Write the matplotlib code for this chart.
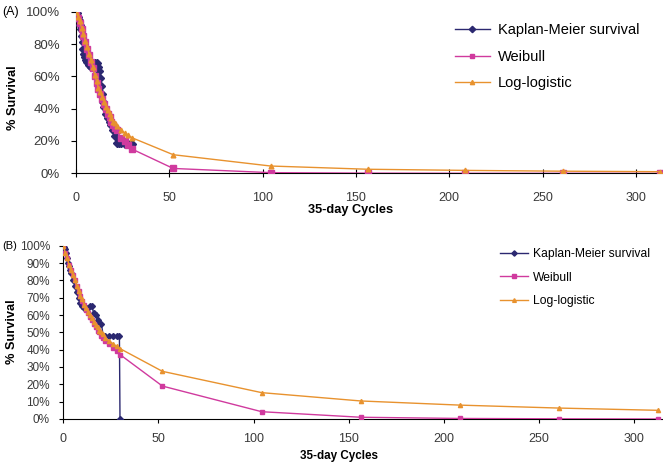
import matplotlib
matplotlib.use("Agg")
import matplotlib.pyplot as plt
from matplotlib.ticker import FuncFormatter, MultipleLocator

plt.rcParams['font.family'] = ['Liberation Sans', 'DejaVu Sans']

# ---------------- Data ----------------
# Panel A
km_a_t = [0, 0.5, 1, 1.5, 2, 2.5, 3, 3.5, 4, 4.5, 5, 5.5, 6, 7, 8, 9, 10, 11, 12,
          12.5, 13, 13.5, 14, 14.5, 15, 16, 17, 18, 19, 20, 21, 22, 23, 24, 26, 28, 30]
km_a_s = [100, 99, 97, 95, 92, 89, 85, 81, 77, 74, 72, 70, 69, 67, 66, 66, 68, 68, 66,
          63, 59, 54, 49, 44, 41, 37, 34, 32, 30, 27, 23, 19, 18.5, 18.5, 18, 18, 18]

model_t = [0, 1, 2, 3, 4, 5, 6, 7, 8, 9, 10, 11, 12, 13, 14, 15, 16, 17, 18, 19, 20,
           21, 22, 24, 26, 28, 30, 52.1, 104.3, 156.4, 208.6, 260.7, 312.9]

weib_a_s = [100, 96, 93, 89, 85, 81, 77, 73, 69, 65, 60, 56, 52, 49, 46, 43, 40, 37, 35, 32, 30,
            28, 26.5, 22, 20, 17.5, 15, 3, 0.4, 0.1, 0, 0, 0]
logl_a_s = [100, 97, 94, 90, 86, 82, 78, 74, 70, 66, 61, 57, 53, 50, 47, 44, 41, 39, 37, 34, 32,
            31, 29, 27, 25, 23.5, 22, 11.5, 4.5, 2.5, 1.8, 1.3, 1.0]

# Panel B
km_b_t = [0, 0.5, 1, 1.5, 2, 2.5, 3, 3.5, 4, 5, 6, 7, 8, 9, 10, 11, 12, 13, 14, 15,
          16, 17, 18, 19, 20, 21, 22, 24, 26, 28, 29.5, 29.8]
km_b_s = [100, 99, 98, 96, 93, 90, 88, 86, 84, 80, 77, 73, 70, 67, 65, 64, 64, 64, 65, 65,
          61, 60, 57, 55, 55, 48, 48, 48, 48, 48, 48, 0]

weib_b_s = [100, 96, 93, 89, 86, 83, 80, 77, 74, 71, 68, 66, 63, 61, 59, 57, 55, 53, 51, 50, 48,
            47, 45, 43, 41, 39, 37, 19, 4.2, 1.0, 0.3, 0.1, 0]
logl_b_s = [100, 96, 93, 89, 86, 83, 80, 77, 74, 71, 69, 66, 64, 62, 60, 58, 56, 54, 53, 51, 50,
            49, 47, 45, 43.5, 42, 40.5, 27.5, 15.2, 10.4, 8.0, 6.3, 5.0]

labels = ["Kaplan-Meier survival", "Weibull", "Log-logistic"]
x_ticks = [0, 50, 100, 150, 200, 250, 300]

# ---------------- Styling ----------------
C_KM = "#2B2870"
C_WB = "#D03A9E"
C_LL = "#E8922E"
TICK_COLOR = "#3a3a3a"

pct = FuncFormatter(lambda v, p: f"{int(round(v))}%")

fig = plt.figure(figsize=(6.63, 4.62), dpi=100)

# ---- Panel A ----
axA = fig.add_axes([0.1146, 0.6249, 0.884, 0.3498])
axA.plot(km_a_t, km_a_s, color=C_KM, lw=1.0, marker='D', ms=3.6, label=labels[0], zorder=3)
axA.plot(model_t, weib_a_s, color=C_WB, lw=1.0, marker='s', ms=3.8, label=labels[1], zorder=4)
axA.plot(model_t, logl_a_s, color=C_LL, lw=1.0, marker='^', ms=3.4, label=labels[2], zorder=5)
axA.set_xlim(0, 314)
axA.set_ylim(0, 100)
axA.set_xticks(x_ticks)
axA.yaxis.set_major_locator(MultipleLocator(20))
axA.yaxis.set_major_formatter(pct)
axA.tick_params(axis='x', direction='inout', length=6, pad=10.5, labelsize=9, labelcolor=TICK_COLOR)
axA.tick_params(axis='y', direction='out', length=3.6, pad=8, labelsize=9.5, labelcolor=TICK_COLOR)
for s in ['top', 'right']:
    axA.spines[s].set_visible(False)
axA.set_xlabel("35-day Cycles", fontweight='bold', fontsize=9.2)
axA.xaxis.set_label_coords(0.468, -0.19)
axA.set_ylabel("% Survival", fontweight='bold', fontsize=9.2)
axA.yaxis.set_label_coords(-0.097, 0.466)
axA.legend(loc='upper left', bbox_to_anchor=(0.686, 0.950), bbox_transform=fig.transFigure,
           frameon=False, fontsize=10.5, numpoints=1, handlelength=2.4, handletextpad=0.55,
           labelspacing=0.865, borderpad=0, borderaxespad=0, markerscale=0.9)
fig.text(0.003, 0.975, "(A)", fontsize=9, va='center', ha='left')

# ---- Panel B ----
axB = fig.add_axes([0.0955, 0.0931, 0.9036, 0.3751])
axB.plot(km_b_t, km_b_s, color=C_KM, lw=1.0, marker='D', ms=3.0, label=labels[0], zorder=3)
axB.plot(model_t, weib_b_s, color=C_WB, lw=1.0, marker='s', ms=3.0, label=labels[1], zorder=4)
axB.plot(model_t, logl_b_s, color=C_LL, lw=1.0, marker='^', ms=3.0, label=labels[2], zorder=5)
axB.set_xlim(0, 315)
axB.set_ylim(0, 100)
axB.set_xticks(x_ticks)
axB.yaxis.set_major_locator(MultipleLocator(10))
axB.yaxis.set_major_formatter(pct)
axB.tick_params(axis='x', direction='out', length=3, pad=7, labelsize=9, labelcolor=TICK_COLOR)
axB.tick_params(axis='y', direction='out', length=3, pad=6.6, labelsize=8.5, labelcolor=TICK_COLOR)
for s in ['top', 'right']:
    axB.spines[s].set_visible(False)
axB.set_xlabel("35-day Cycles", fontweight='bold', fontsize=8.4)
axB.xaxis.set_label_coords(0.46, -0.177)
axB.set_ylabel("% Survival", fontweight='bold', fontsize=9.2)
axB.yaxis.set_label_coords(-0.0756, 0.504)
axB.legend(loc='upper left', bbox_to_anchor=(0.754, 0.4626), bbox_transform=fig.transFigure,
           frameon=False, fontsize=8.7, numpoints=1, handlelength=2.3, handletextpad=0.4,
           labelspacing=0.93, borderpad=0, borderaxespad=0, markerscale=0.9)
fig.text(0.003, 0.468, "(B)", fontsize=8, va='center', ha='left')

fig.savefig("out.png", dpi=100)
